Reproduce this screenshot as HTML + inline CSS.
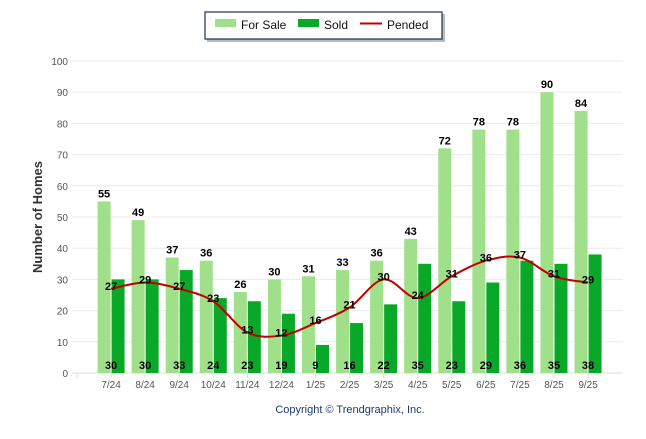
<!DOCTYPE html>
<html><head><meta charset="utf-8"><style>
body{margin:0;background:#fff;font-family:"Liberation Sans",sans-serif}
#c{position:relative;width:646px;height:434px}
</style></head><body>
<div id="c">
<svg id="s" width="646" height="434" xmlns="http://www.w3.org/2000/svg" font-family="Liberation Sans, sans-serif">
<g>
<rect x="207" y="14" width="238" height="28" fill="#bbb"/>
<rect x="205" y="12" width="237" height="27" fill="#fff" stroke="#1f2f5a" stroke-width="1.2"/>
<rect x="215" y="19" width="21" height="8" fill="#a0e08a"/>
<text x="241" y="29" font-size="12" fill="#111">For Sale</text>
<rect x="298" y="19" width="21" height="8" fill="#0aa828"/>
<text x="324" y="29" font-size="12" fill="#111">Sold</text>
<line x1="360" y1="23.5" x2="382" y2="23.5" stroke="#c00000" stroke-width="2"/>
<text x="387" y="29" font-size="12" fill="#111">Pended</text>
</g>
<text transform="translate(42,217) rotate(-90)" text-anchor="middle" font-size="13" font-weight="bold" fill="#333">Number of Homes</text>
<text x="350" y="413" text-anchor="middle" font-size="11" fill="#1f3a6e">Copyright © Trendgraphix, Inc.</text>
<g id="grid"></g><g id="bars"></g><g id="line"></g><g id="labels"></g>
</svg></div>
<script>
const categories=["7/24","8/24","9/24","10/24","11/24","12/24","1/25","2/25","3/25","4/25","5/25","6/25","7/25","8/25","9/25"];
const forSale=[55,49,37,36,26,30,31,33,36,43,72,78,78,90,84];
const sold=[30,30,33,24,23,19,9,16,22,35,23,29,36,35,38];
const pended=[27,29,27,23,13,12,16,21,30,24,31,36,37,31,29];
const yTicks=[0,10,20,30,40,50,60,70,80,90,100];
const NS="http://www.w3.org/2000/svg";
const y0=373,y100=61,xL=77,step=34.07;
const Y=v=>y0-(v/100)*(y0-y100);
const X=i=>xL+(i+1)*step;
function mk(t,a,p){const e=document.createElementNS(NS,t);for(const k in a)e.setAttribute(k,a[k]);p.appendChild(e);return e;}
const g=document.getElementById('grid'),b=document.getElementById('bars'),l=document.getElementById('line'),lb=document.getElementById('labels');
yTicks.forEach(v=>{
 const ln=mk('line',{x1:72,x2:623,y1:Y(v),y2:Y(v),stroke:v===0?'#ddd':'#ebebeb','stroke-width':1},g);
 
 
 const t=mk('text',{x:68,y:Y(v)+4,'text-anchor':'end','font-size':10,fill:'#555'},g);t.textContent=v;
 
 
});
for(let i=0;i<=15;i++){const tk=mk('line',{x1:xL+i*step,x2:xL+i*step,y1:y0,y2:y0+5,stroke:'#ddd'},g);
 
 }
categories.forEach((c,i)=>{
 const cx=X(i);
 const t=mk('text',{x:cx,y:388,'text-anchor':'middle','font-size':10,fill:'#555'},g);t.textContent=c;
 
 
 const r1=mk('rect',{x:cx-13.5,y:Y(forSale[i]),width:13,height:y0-Y(forSale[i]),fill:'#a0e08a'},b);
 
 
 const r2=mk('rect',{x:cx+0.5,y:Y(sold[i]),width:13,height:y0-Y(sold[i]),fill:'#0aa828'},b);
 
 
 const t1=mk('text',{x:cx-7,y:Y(forSale[i])-4,'text-anchor':'middle','font-size':11,'font-weight':'bold',fill:'#000'},lb);t1.textContent=forSale[i];
 
 
 const t2=mk('text',{x:cx,y:369,'text-anchor':'middle','font-size':11,'font-weight':'bold',fill:'#000'},lb);t2.textContent=sold[i];
 
 
 const t3=mk('text',{x:cx,y:Y(pended[i])+1,'text-anchor':'middle','font-size':11,'font-weight':'bold',fill:'#000'},lb);t3.textContent=pended[i];
 
 
});
const pts=pended.map((v,i)=>[X(i),Y(v)]);
let d=`M${pts[0][0]},${pts[0][1]}`;
for(let i=0;i<pts.length-1;i++){
 const p0=pts[i-1]||pts[i],p1=pts[i],p2=pts[i+1],p3=pts[i+2]||p2,k=6;
 d+=` C${p1[0]+(p2[0]-p0[0])/k},${p1[1]+(p2[1]-p0[1])/k} ${p2[0]-(p3[0]-p1[0])/k},${p2[1]-(p3[1]-p1[1])/k} ${p2[0]},${p2[1]}`;
}
const pl=mk('path',{d:d,fill:'none',stroke:'#c00000','stroke-width':2},l);


</script>
</body></html>
